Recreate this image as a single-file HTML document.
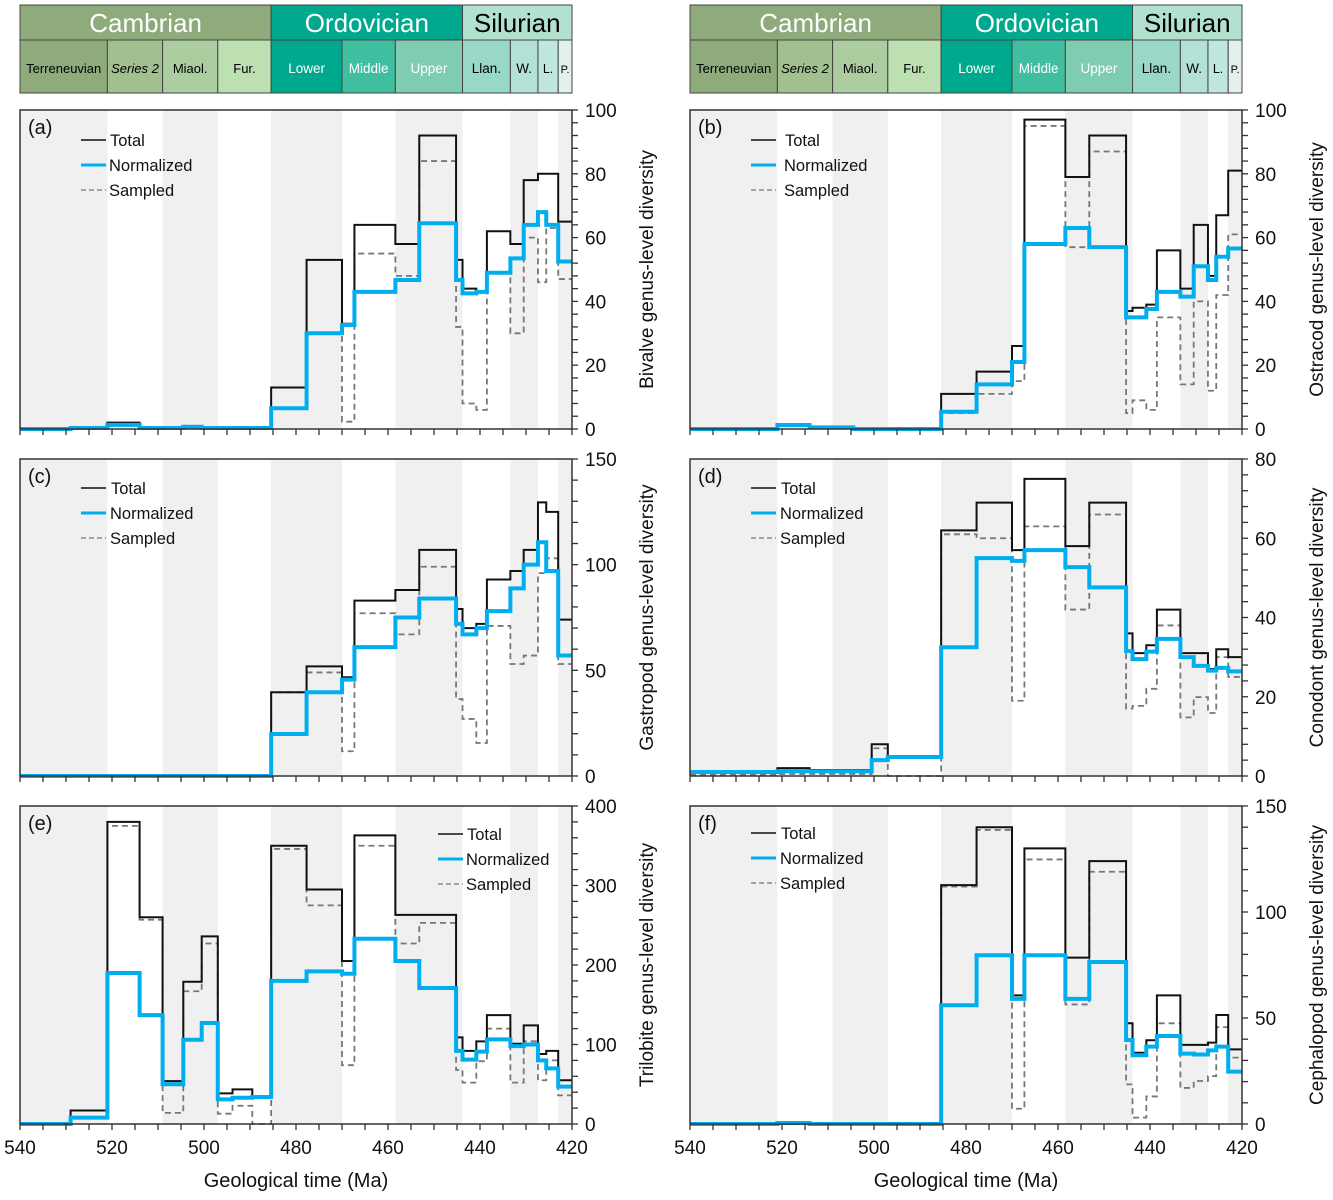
<!DOCTYPE html>
<html><head><meta charset="utf-8"><style>
body{margin:0;background:#fff;width:1333px;height:1195px;overflow:hidden;font-family:"Liberation Sans",Arial,sans-serif}
svg text{font-family:"Liberation Sans",Arial,sans-serif}
</style></head><body>
<svg id="fig" width="1333" height="1195" viewBox="0 0 1333 1195" xmlns="http://www.w3.org/2000/svg"></svg>
<script>
// Bin edges (Ma)
const binEdges=[540,529,521,514,509,504.5,500.5,497,493.8,489.5,485.4,477.7,470,467.3,458.4,453.2,445.2,443.8,440.8,438.5,433.4,430.5,427.4,425.6,423,420];
const xTickLabels=[540,520,500,480,460,440,420];
const bandEdges=[[538.8,521],[509,497],[485.4,470],[458.4,443.8],[433.4,427.4],[423,419.2]];
// (a) Bivalve
const aTotal=[0,0.5,2,0,0,0.7,0,0,0,0,13,53,33,64,58,92,53,44,43,62,58,78,80,80,65];
const aNorm=[0,0.3,1.3,0.3,0.3,0.7,0.3,0.3,0.3,0.3,6.5,30,32.6,43,46.7,64.5,46.7,42.5,43,49,53.5,64,68,64,52.5];
const aSamp=[0,0.3,1,0,0,0.5,0,0,0,0,6.5,30,2.3,55,48,84,32,8,6,49,30,60,46,63,47];
// (b) Ostracod
const bTotal=[0,0,1.5,0.5,0.5,0,0,0,0,0,11,18,26,97,79,92,37,38,39,56,44,64,48,67,81];
const bNorm=[0,0,1.2,0.5,0.5,0,0,0,0,0,5.4,14,21,58,63,57,35,35,37.6,43,41.5,51,46.7,54,56.6];
const bSamp=[0,0,1,0.3,0.3,0,0,0,0,0,5,11,15,95,57,87,5,9,6,35,14,40,12,42,61];
// (c) Gastropod
const cTotal=[0,0,0,0,0,0,0,0,0,0,39.6,51.9,46.7,83,88,107,79,70,72,93,97,107,129.5,125,74];
const cNorm=[0,0,0,0,0,0,0,0,0,0,19.9,39.6,45.6,61,75,84,72,67,70,78,88.8,100,110.6,97,57];
const cSamp=[0,0,0,0,0,0,0,0,0,0,39.6,49,11.7,77,67,99,36.4,27,15.6,71,53,57,96,103,53];
// (d) Conodont
const dTotal=[1,1,2,1.5,1.5,1.5,8,5,5,5,62,69,57,75,58,69,36,31,33,42,31,31,27,32,30];
const dNorm=[1,1,1.2,1.2,1.2,1.2,4,4.8,4.8,4.8,32.5,55,54.3,57,52.7,47.6,31.5,29.5,31.4,34.6,30,27.8,26.6,27.3,26.4];
const dSamp=[0.3,0.3,0.5,0.5,0.5,0.5,7,0,0,0,61,60,19,63,42,66,17,17.7,22,38,14.8,19.9,15.9,30,25];
// (e) Trilobite
const eTotal=[0,17,380,260,54,179,236,38.6,43.6,35,350,295,205,363,263,263,109,92,104,137,101,124,88,92,55];
const eNorm=[0,8,190,137,50,106,127,31,33,34,180,192,189,233,205,171,92,81,91,106.5,98,100,80,70,47];
const eSamp=[0,8,375,257,14,167,227,13,23,0,346,275,74,350,227,253,68,52,79,120,52,104,55,80,36];
// (f) Cephalopod
const fTotal=[0,0,0.7,0,0,0,0,0,0,0,112.7,140,60.7,130,78.5,124,47.5,33.6,39.5,60.7,37.3,37.3,38.4,51.4,35.2];
const fNorm=[0,0,0.5,0,0,0,0,0,0,0,56,79.6,59,79.6,59,76.4,39.6,32.4,36.5,41.5,33.2,32.8,34.7,36.5,24.7];
const fSamp=[0,0,0.3,0,0,0,0,0,0,0,112,138.7,7.2,124.8,56.4,119,18.7,3,13,47.5,17,20.3,22.6,45.7,31.3];
const aTicks=[0,20,40,60,80,100],cTicks=[0,50,100,150],dTicks=[0,20,40,60,80],eTicks=[0,100,200,300,400],fTicks=[0,50,100,150];

const NS="http://www.w3.org/2000/svg";
const svg=document.getElementById('fig');
function mk(tag,attrs,parent,txt){const e=document.createElementNS(NS,tag);for(const k in attrs)e.setAttribute(k,attrs[k]);if(txt!==undefined)e.textContent=txt;(parent||svg).appendChild(e);return e;}

// Header timescale
const headerTop=[["Cambrian",540,485.4,"#8fab7c","#fff"],["Ordovician",485.4,443.8,"#00a98e","#fff"],["Silurian",443.8,420,"#b3e1cf","#000"]];
const headerSub=[["Terreneuvian",540,521,"#8fab7b","#000",13],["Series 2",521,509,"#a0c08f","#000",13],["Miaol.",509,497,"#accd9f","#000",13],["Fur.",497,485.4,"#bde0b2","#000",13],["Lower",485.4,470,"#00a98e","#fff",13.5],["Middle",470,458.4,"#3fbf9f","#fff",13.5],["Upper",458.4,443.8,"#7fcdb1","#fff",13.5],["Llan.",443.8,433.4,"#99d8c9","#000",13.5],["W.",433.4,427.4,"#b3e1d6","#000",13.5],["L.",427.4,423,"#bfe6df","#000",12.5],["P.",423,420,"#e3f1ea","#000",11]];
[20,690].forEach((X0,ci)=>{
  const g=mk('g',{},svg);
  
  
  const sx=m=>X0+(540-m)*4.6;
  headerTop.forEach(h=>{
    const r=mk('rect',{x:sx(h[1]),y:5,width:sx(h[2])-sx(h[1]),height:35,fill:h[3],stroke:'#444','stroke-width':1},g);
    
    
    mk('text',{x:(sx(h[1])+sx(h[2]))/2,y:32,'font-size':26,'text-anchor':'middle',fill:h[4]},g,h[0]);
  });
  headerSub.forEach(h=>{
    const r=mk('rect',{x:sx(h[1]),y:40,width:sx(h[2])-sx(h[1]),height:53,fill:h[3],stroke:'#444','stroke-width':1},g);
    
    
    const t=mk('text',{x:(sx(h[1])+sx(h[2]))/2,y:73,'font-size':h[5],'text-anchor':'middle',fill:h[4]},g,h[0]);
    if(h[0]==="Series 2")t.setAttribute('font-style','italic');
  });
});

const panels=[
 {id:'a',X0:20,Y0:110,Y1:429,max:100,minor:4,ticks:aTicks,T:aTotal,N:aNorm,S:aSamp,title:'Bivalve genus-level diversity',lx:81,tx:110,ly:140},
 {id:'b',X0:690,Y0:110,Y1:429,max:100,minor:4,ticks:aTicks,T:bTotal,N:bNorm,S:bSamp,title:'Ostracod genus-level diversity',lx:751,tx:785,ly:140},
 {id:'c',X0:20,Y0:459,Y1:776,max:150,minor:10,ticks:cTicks,T:cTotal,N:cNorm,S:cSamp,title:'Gastropod genus-level diversity',lx:81,tx:111,ly:488},
 {id:'d',X0:690,Y0:459,Y1:776,max:80,minor:4,ticks:dTicks,T:dTotal,N:dNorm,S:dSamp,title:'Conodont genus-level diversity',lx:751,tx:781,ly:488},
 {id:'e',X0:20,Y0:806,Y1:1124,max:400,minor:20,ticks:eTicks,T:eTotal,N:eNorm,S:eSamp,title:'Trilobite genus-level diversity',lx:438,tx:467,ly:834},
 {id:'f',X0:690,Y0:806,Y1:1124,max:150,minor:10,ticks:fTicks,T:fTotal,N:fNorm,S:fSamp,title:'Cephalopod genus-level diversity',lx:751,tx:781,ly:833}
];

panels.forEach(p=>{
  const W=552;
  const sx=m=>p.X0+(540-m)*W/120;
  const sy=v=>p.Y1-v*(p.Y1-p.Y0)/p.max;
  const g=mk('g',{},svg);
  
  
  bandEdges.forEach(b=>{
    const a=Math.min(540,b[0]===538.8?540:b[0]),z=Math.max(420,b[1]);
    const r=mk('rect',{x:sx(a),y:p.Y0,width:sx(z)-sx(a),height:p.Y1-p.Y0,fill:'#f0f0f0'},g);
    
    
  });
  function stepPath(vals){
    let d='M'+sx(binEdges[0])+','+sy(vals[0]);
    for(let i=0;i<vals.length;i++){
      if(i>0)d+=' V'+sy(vals[i]);
      d+=' H'+sx(binEdges[i+1]);
    }
    return d;
  }
  const s=mk('path',{d:stepPath(p.S),fill:'none',stroke:'#777','stroke-width':1.8,'stroke-dasharray':'6 4'},g);
  
  
  const t=mk('path',{d:stepPath(p.T),fill:'none',stroke:'#111','stroke-width':2},g);
  
  
  const n=mk('path',{d:stepPath(p.N),fill:'none',stroke:'#00aeef','stroke-width':4},g);
  
  
  mk('path',{d:`M${p.X0},${p.Y1} V${p.Y0} H${p.X0+W} V${p.Y1} H${p.X0}`,fill:'none',stroke:'#333','stroke-width':1.5},g);
  for(let m=540;m>=420;m-=5){mk('line',{x1:sx(m),x2:sx(m),y1:p.Y1,y2:p.Y1+6,stroke:'#333','stroke-width':1.3},g);}
  for(let v=0;v<=p.max+0.001;v+=p.minor){mk('line',{x1:p.X0+W,x2:p.X0+W+6,y1:sy(v),y2:sy(v),stroke:'#333','stroke-width':1.3},g);}
  p.ticks.forEach(v=>{
    const tl=mk('text',{x:p.X0+W+13,y:sy(v)+7,'font-size':19,fill:'#111'},g,String(v));
    
    
  });
  if(p.id==='e'||p.id==='f'){
    xTickLabels.forEach(m=>{
      const tl=mk('text',{x:sx(m),y:1154,'font-size':19,'text-anchor':'middle',fill:'#111'},g,String(m));
      
      
    });
    const xt=mk('text',{x:p.X0+276,y:1187,'font-size':20,'text-anchor':'middle',fill:'#111'},g,'Geological time (Ma)');
    
    
  }
  const yt=mk('text',{x:0,y:0,'font-size':19,'text-anchor':'middle',fill:'#111',transform:`translate(${p.X0+W+81},${(p.Y0+p.Y1)/2}) rotate(-90)`},g,p.title);
  
  
  const pl=mk('text',{x:p.X0+8,y:p.Y0+24,'font-size':20,fill:'#111'},g,'('+p.id+')');
  
  
  const lg=mk('g',{},g);
  
  
  [['Total','#111',1.5,null],['Normalized','#00aeef',3,null],['Sampled','#777',1.3,'5 3']].forEach((L,i)=>{
    const y=p.ly+i*25;
    const ln=mk('line',{x1:p.lx,x2:p.lx+25,y1:y,y2:y,stroke:L[1],'stroke-width':L[2]},lg);
    if(L[3])ln.setAttribute('stroke-dasharray',L[3]);
    const tx=mk('text',{x:L[0]==='Total'?p.tx:p.tx-1,y:y+6,'font-size':16.5,fill:'#111'},lg,L[0]);
    
    
  });
});
</script>
</body></html>
